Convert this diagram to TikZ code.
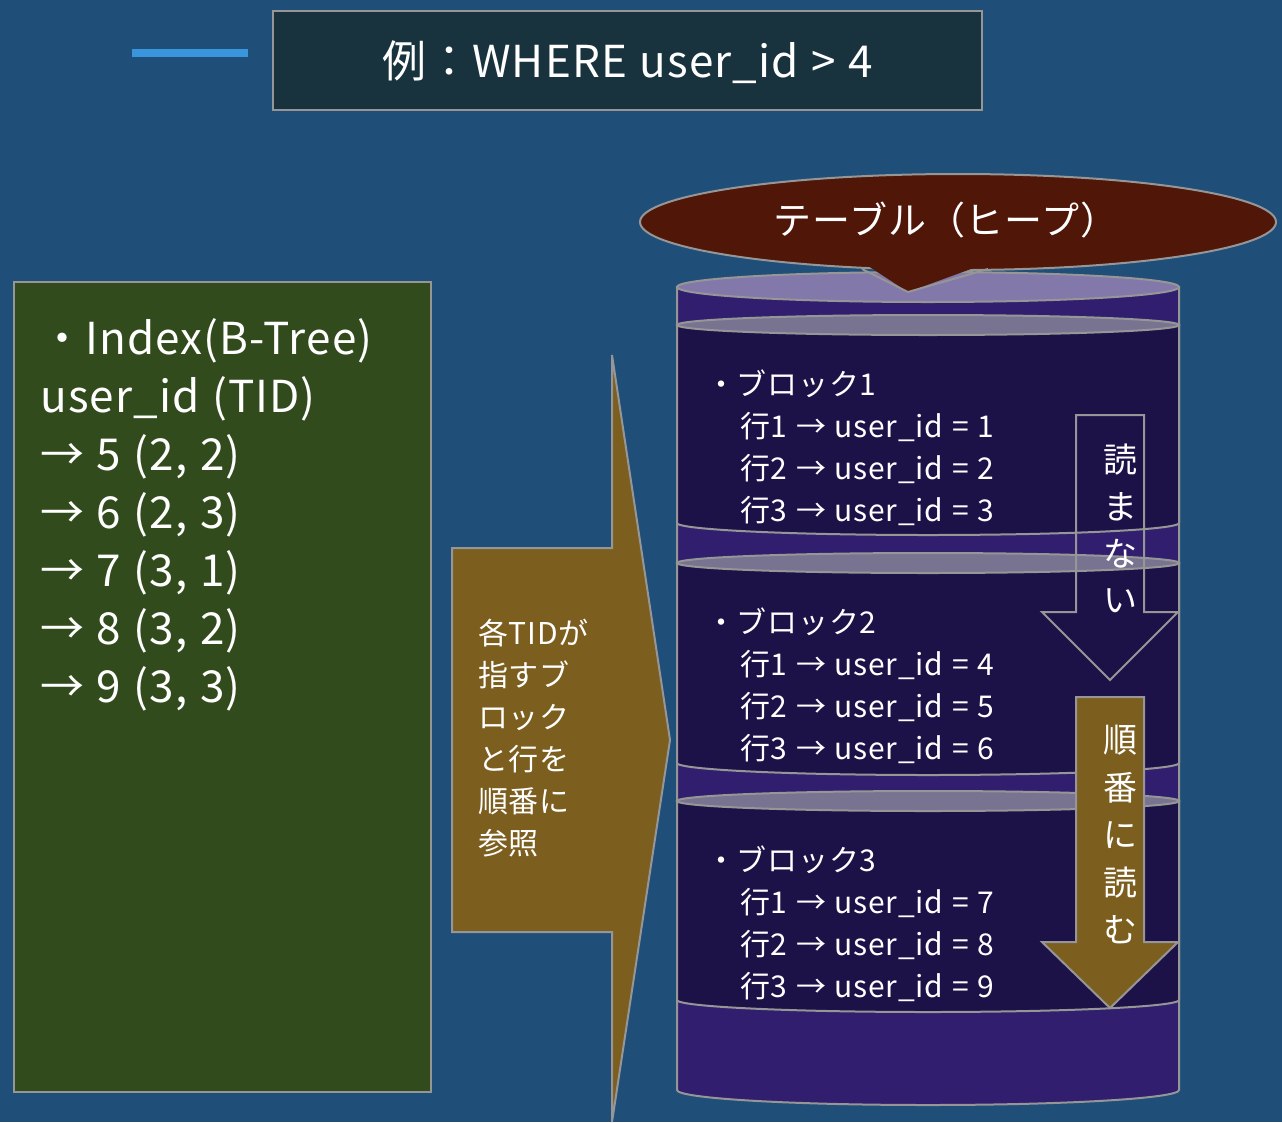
\documentclass[tikz,border=0pt]{standalone}
\usepackage{fontspec}
\setmainfont[WordSpace=1.15,LetterSpace=2.5]{Noto Sans CJK JP}
\definecolor{bg}{RGB}{31,78,121}
\definecolor{lineblue}{RGB}{58,150,220}
\definecolor{titlebg}{RGB}{24,50,62}
\definecolor{greenbox}{RGB}{50,75,28}
\definecolor{brownarrow}{RGB}{124,94,30}
\definecolor{cylfill}{RGB}{50,30,110}
\definecolor{cyltop}{RGB}{130,120,170}
\definecolor{blocktop}{RGB}{120,115,145}
\definecolor{blockbody}{RGB}{28,18,72}
\definecolor{callout}{RGB}{80,22,8}
\definecolor{edge}{RGB}{150,150,150}
\tikzset{
  outl/.style={draw=edge,line width=2pt},
  txt/.style={text=white,inner sep=0pt,anchor=base west},
  sm/.style={font=\fontsize{30}{36}\selectfont},
  bigl/.style={font=\fontsize{44}{50}\selectfont},
}
\begin{document}
\begin{tikzpicture}[x=1pt,y=1pt]
\fill[bg] (0,0) rectangle (1282,-1122);
\useasboundingbox (0,0) rectangle (1282,-1122);
% title
\draw[lineblue,line width=8pt] (132,-53) -- (248,-53);
\node[outl,fill=titlebg,minimum width=709pt,minimum height=99pt,anchor=north west,inner sep=0pt] (title) at (272,-10) {};
\node[txt,anchor=center,text=white,font=\fontsize{44}{50}\selectfont] (titletxt) at ([yshift=-2pt]title.center) {例：WHERE user\_id > 4};
% green box
\node[outl,fill=greenbox,minimum width=417pt,minimum height=810pt,anchor=north west,inner sep=0pt] (idx) at (13,-281) {};
\node[txt,bigl] (l1) at (40,-354) {・Index(B-Tree)};
\node[txt,bigl] (l2) at (40,-412) {user\_id (TID)};
\node[txt,bigl] (l3) at (40,-470) {→ 5 (2, 2)};
\node[txt,bigl] (l4) at (40,-528) {→ 6 (2, 3)};
\node[txt,bigl] (l5) at (40,-586) {→ 7 (3, 1)};
\node[txt,bigl] (l6) at (40,-644) {→ 8 (3, 2)};
\node[txt,bigl] (l7) at (40,-702) {→ 9 (3, 3)};
% big right arrow
\draw[outl,fill=brownarrow] (452,-548) -- (612,-548) -- (612,-355) -- (670,-740) -- (612,-1122) -- (612,-932) -- (452,-932) -- cycle;
\foreach \t [count=\i] in {各TIDが,指すブ,ロック,と行を,順番に,参照}
  \node[txt,font=\fontsize{30}{36}\selectfont] (a\i) at (478,{-644-42*(\i-1)}) {\t};
% cylinder
\draw[outl,fill=cylfill] (677,-287) -- (677,-1090) arc[start angle=180,end angle=360,x radius=251pt,y radius=15pt] -- (1179,-287) -- cycle;
\draw[outl,fill=cyltop] (928,-287) ellipse[x radius=251pt,y radius=15pt];
% blocks
\foreach \yt/\yb in {325/523,563/763,801/1000}{
  \draw[outl,fill=blockbody] (677,-\yt) -- (677,-\yb) arc[start angle=180,end angle=360,x radius=251pt,y radius=12pt] -- (1179,-\yt) -- cycle;
  \draw[outl,fill=blocktop] (928,-\yt) ellipse[x radius=251pt,y radius=10pt];
}
\foreach \b/\y/\r in {1/383/1,2/621/4,3/859/7}{
  \node[txt,sm] at (706,-\y-12) {・ブロック\b};
  \node[txt,sm] at (740,-\y-54) {行1 → user\_id = \r};
  \pgfmathtruncatemacro\rb{\r+1}\pgfmathtruncatemacro\rc{\r+2}
  \node[txt,sm] at (740,-\y-96) {行2 → user\_id = \rb};
  \node[txt,sm] at (740,-\y-138) {行3 → user\_id = \rc};
}
% callout
\draw[outl,fill=callout] (958,-222) ellipse[x radius=318pt,y radius=48pt];
\fill[callout] (862,-262) -- (908,-292) -- (990,-262) -- cycle;
\draw[outl] (862,-269) -- (908,-292) -- (988,-269);
\node[txt,anchor=center,font=\fontsize{38}{44}\selectfont] (heap) at (946,-220) {テーブル（ヒープ）};
% down arrows
\draw[outl] (1076,-415) -- (1144,-415) -- (1144,-612) -- (1178,-612) -- (1110,-680) -- (1042,-612) -- (1076,-612) -- cycle;
\foreach \t [count=\i] in {読,ま,な,い}
  \node[txt,anchor=center,font=\fontsize{34}{40}\selectfont] (r\i) at (1120,{-460-47*(\i-1)}) {\t};
\draw[outl,fill=brownarrow] (1076,-697) -- (1144,-697) -- (1144,-942) -- (1178,-942) -- (1110,-1008) -- (1042,-942) -- (1076,-942) -- cycle;
\foreach \t [count=\i] in {順,番,に,読,む}
  \node[txt,anchor=center,font=\fontsize{34}{40}\selectfont] (s\i) at (1120,{-740-47.5*(\i-1)}) {\t};
\end{tikzpicture}
\end{document}
